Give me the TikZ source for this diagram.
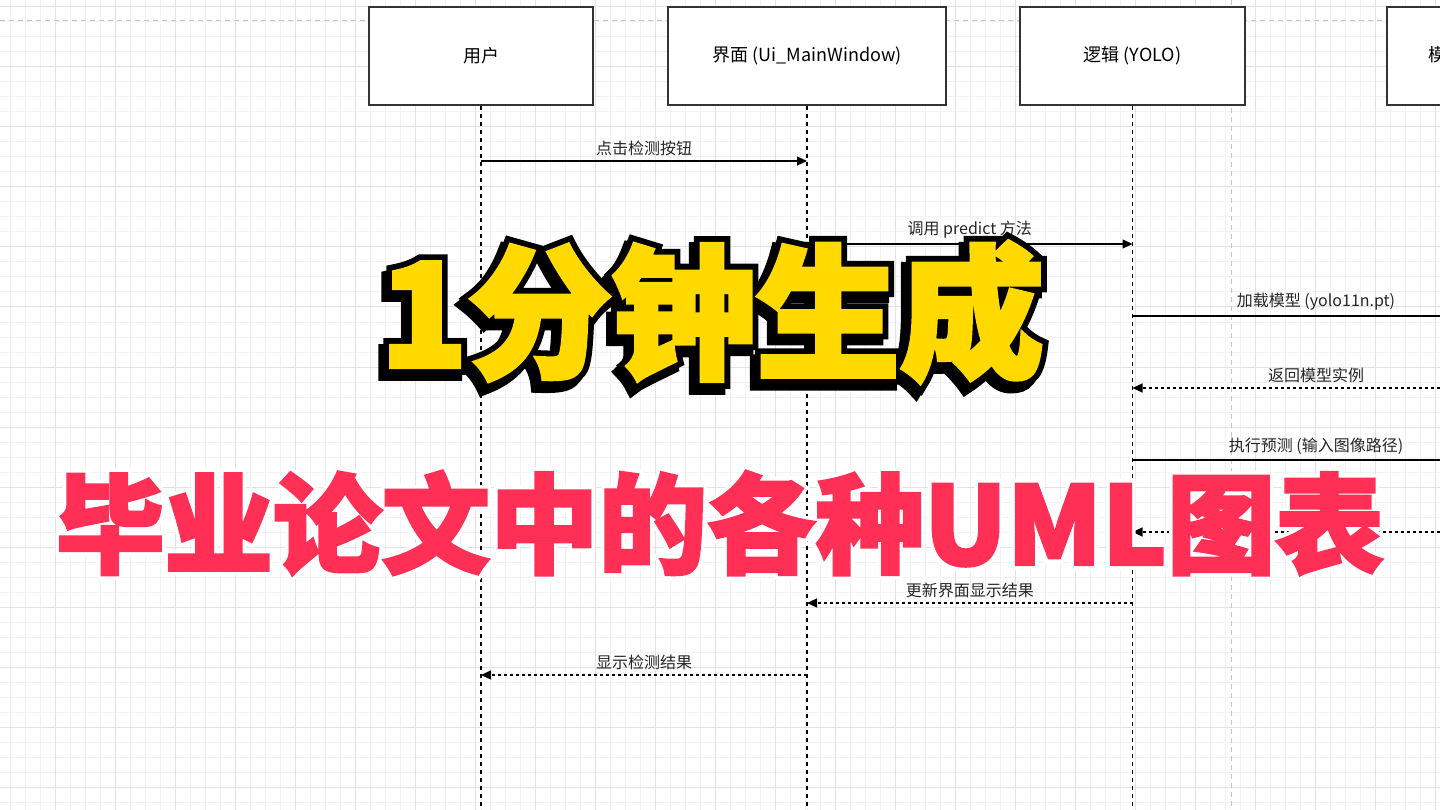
\documentclass[tikz,border=0pt]{standalone}
\usepackage{fontspec}
\setmainfont{Noto Sans CJK SC}
\usetikzlibrary{arrows.meta,positioning}

\definecolor{gridminor}{HTML}{F2F2F2}
\definecolor{gridmajor}{HTML}{E2E2E2}
\definecolor{pageline}{HTML}{C6C6C6}
\definecolor{boxline}{HTML}{333333}
\definecolor{titleyellow}{HTML}{FFD900}
\definecolor{titlered}{HTML}{FF2F56}

\begin{document}
\begin{tikzpicture}[x=1pt,y=-1pt,
    actor/.style={rectangle,draw=boxline,line width=1.3pt,fill=white,minimum width=224pt,minimum height=98pt,font=\fontsize{18}{20}\selectfont},
    lifeline/.style={draw=black,line width=1.3pt,dash pattern=on 4pt off 4pt},
    msg/.style={draw=black,line width=1.2pt,-{Triangle[length=10pt,width=9pt]}},
    ret/.style={msg,dash pattern=on 3pt off 3pt},
    msglabel/.style={above=5pt,inner sep=0pt,font=\fontsize{16}{18}\selectfont,text=black!85},
    bigtext/.style={inner sep=0pt,font=\fontsize{144}{144}\selectfont\bfseries\addfontfeatures{FakeBold=#1}},
    redtext/.style={inner sep=0pt,font=\fontsize{108.5}{110}\selectfont\bfseries\addfontfeatures{FakeBold=#1}}]
    \path[use as bounding box,clip] (0,0) rectangle (1440,810);
    \fill[white] (0,0) rectangle (1440,810);

    % grid background
    \foreach \x in {10,25,...,1435} \draw[gridminor,line width=1pt] (\x,0) -- (\x,810);
    \foreach \y in {7,22,...,807} \draw[gridminor,line width=1pt] (0,\y) -- (1440,\y);
    \foreach \x in {55,115,...,1435} \draw[gridmajor,line width=1pt] (\x,0) -- (\x,810);
    \foreach \y in {7,67,...,807} \draw[gridmajor,line width=1pt] (0,\y) -- (1440,\y);
    \draw[pageline,line width=1pt,dash pattern=on 5pt off 4pt] (0,21) -- (1440,21);
    \draw[pageline,line width=1pt,dash pattern=on 5pt off 4pt] (1231,0) -- (1231,810);

    % participants
    \node[actor] (user) at (481,56) {用户};
    \node[actor,minimum width=278pt] (ui) at (807,56) {界面 (Ui\_MainWindow)};
    \node[actor,minimum width=225pt] (logic) at (1132.5,56) {逻辑 (YOLO)};
    \node[actor,minimum width=225pt] (model) at (1499.5,56) {模型 (yolo11n.pt)};
    \foreach \p in {user,ui,logic,model}
        \draw[lifeline] (\p.south) -- (\p.south |- 0,810);

    % messages
    \draw[msg] (user |- 0,161) -- (ui |- 0,161) node[midway,msglabel] (m1) {点击检测按钮};
    \draw[msg] (ui |- 0,244) -- (logic |- 0,244) node[midway,msglabel] (m2) {调用 predict 方法};
    \draw[msg] (logic |- 0,316) -- (model |- 0,316) node[midway,msglabel] (m3) {加载模型 (yolo11n.pt)};
    \draw[ret] (model |- 0,388) -- (logic |- 0,388) node[midway,msglabel] (m4) {返回模型实例};
    \draw[msg] (logic |- 0,460) -- (model |- 0,460) node[midway,msglabel] (m5) {执行预测 (输入图像路径)};
    \draw[ret] (model |- 0,532) -- (logic |- 0,532);
    \draw[ret] (logic |- 0,603) -- (ui |- 0,603) node[midway,msglabel] (m7) {更新界面显示结果};
    \draw[ret] (ui |- 0,675) -- (user |- 0,675) node[midway,msglabel] (m8) {显示检测结果};

    % title overlay
    \node[bigtext=11,text=black] (titleshadow) at (707,318) {1分钟生成};
    \node[bigtext=11,text=black] (titleline) at (712,312) {1分钟生成};
    \node[bigtext=3,text=titleyellow] (title) at (712,312) {1分钟生成};
    \node[redtext=9,text=white] (subtitlehalo) at (720,523) {毕业论文中的各种UML图表};
    \node[redtext=2.5,text=titlered] (subtitle) at (720,523) {毕业论文中的各种UML图表};
\end{tikzpicture}
\end{document}
